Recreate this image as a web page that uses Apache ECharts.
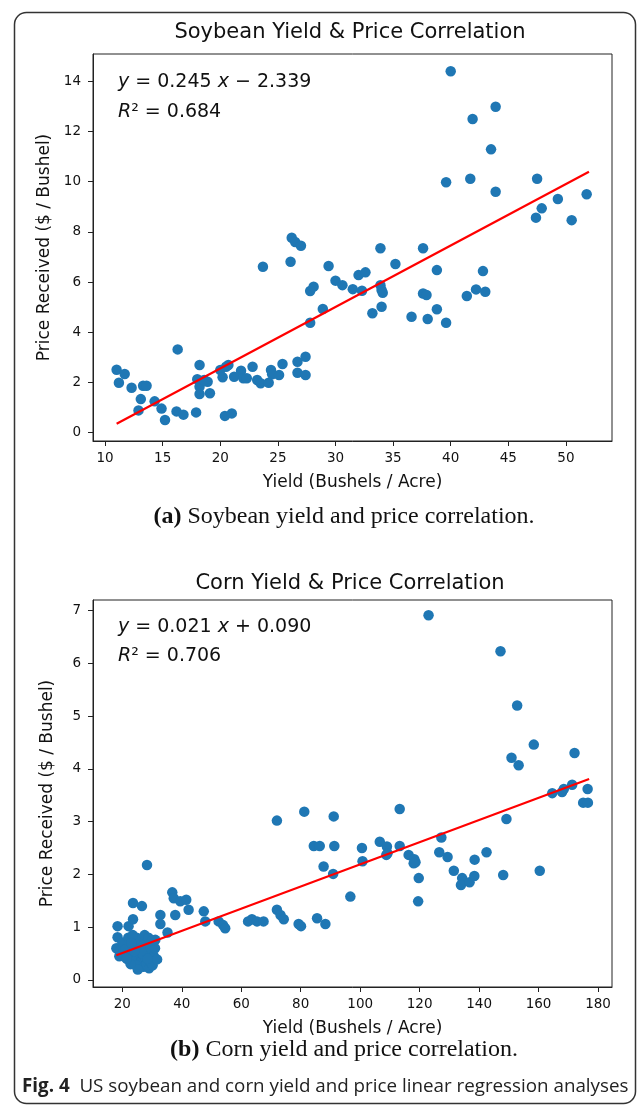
<!DOCTYPE html>
<html>
<head>
<meta charset="utf-8">
<script src="https://cdn.jsdelivr.net/npm/echarts@6/dist/echarts.min.js"></script>
<style>
html,body{margin:0;padding:0;background:#fff;}
#chart{width:637px;height:1107px;}
</style>
</head>
<body>
<div id="chart"></div>
<script>
// ---------- Soybean data ----------
const soyYield = [11.0,11.7,11.2,12.3,13.3,13.6,13.1,12.9,14.3,14.9,15.2,16.3,16.2,16.8,17.9,18.2,18.0,18.9,18.2,18.2,19.1,18.6,20.0,20.2,20.5,20.7,20.4,21.0,21.2,21.8,22.0,22.3,22.8,23.2,23.5,23.7,24.2,24.4,24.5,25.1,25.4,26.1,26.2,26.5,27.0,26.7,26.7,27.4,27.4,27.8,27.8,28.1,28.9,29.4,30.0,30.6,31.5,32.3,32.0,32.6,33.9,34.0,34.1,33.2,34.0,33.9,35.2,36.6,37.6,37.6,37.9,38.0,38.8,38.8,39.6,41.4,42.2,43.0,42.8,40.0,43.9,41.9,43.5,39.6,41.7,43.9,47.5,47.9,47.4,49.3,50.5,51.8];
const soyPrice = [2.51,2.34,1.99,1.79,1.87,1.87,1.34,0.89,1.25,0.96,0.51,3.32,0.85,0.72,0.81,2.70,2.13,2.03,1.83,1.54,1.57,2.10,2.50,2.21,2.63,2.70,0.67,0.77,2.23,2.47,2.17,2.17,2.63,2.10,1.97,6.61,1.99,2.50,2.33,2.30,2.74,6.81,7.77,7.60,7.45,2.83,2.39,3.03,2.30,4.38,5.65,5.82,4.93,6.64,6.06,5.88,5.72,5.66,6.28,6.39,5.88,5.69,5.58,4.76,5.02,7.35,6.72,4.62,7.35,5.55,5.49,4.53,6.48,4.92,4.38,5.45,5.71,5.62,6.44,14.40,12.99,12.50,11.29,9.98,10.12,9.60,10.12,8.94,8.57,9.31,8.47,9.50];
const soyFitX = [11.0, 52.0];
const soyFitY = [0.356, 10.401];
const soyXTicks = [10,15,20,25,30,35,40,45,50];
const soyYTicks = [0,2,4,6,8,10,12,14];

// ---------- Corn data ----------
const cornYield = [18.4,18.4,18.0,22.1,23.6,23.6,26.6,28.3,32.8,32.8,31.1,35.2,36.8,37.3,37.8,39.5,41.5,42.3,47.4,47.9,52.4,53.9,54.6,62.3,63.6,65.3,67.5,72.0,72.0,73.2,74.3,79.3,80.1,81.2,84.4,86.4,85.5,88.3,87.7,91.1,91.3,90.9,96.7,100.6,100.8,106.6,109.0,109.2,108.8,113.3,113.3,116.3,118.2,118.6,118.0,119.7,119.5,127.3,126.6,129.4,131.5,134.3,133.9,136.8,138.4,138.5,142.5,148.1,149.2,160.4,175.0,176.6,123.0,147.2,152.8,158.4,150.9,153.3,172.1,164.6,167.9,168.5,171.3,176.5,
  19.2,19.8,20.3,20.9,21.4,21.8,22.3,22.6,23.0,23.3,23.7,24.0,24.2,24.5,24.8,25.0,25.3,25.6,25.8,26.1,26.3,26.6,26.9,27.1,27.3,27.6,27.9,28.1,28.4,28.7,29.0,29.2,29.5,29.8,30.2,30.6,31.0,31.7,20.0,21.0,22.0,23.5,24.6,26.0,27.5,28.8,25.2,22.8,26.8,24.0,19.0,28.5,30.0,21.5,23.0];
const cornPrice = [1.02,0.81,0.60,1.02,1.15,1.46,1.40,2.18,1.23,1.06,0.76,0.90,1.66,1.55,1.23,1.49,1.52,1.33,1.30,1.11,1.11,1.04,0.98,1.11,1.15,1.11,1.11,3.02,1.33,1.23,1.15,1.06,1.02,3.19,2.54,2.54,1.17,1.06,2.15,3.10,2.54,2.01,1.58,2.50,2.25,2.62,2.53,2.40,2.37,2.54,3.24,2.37,2.29,2.23,2.21,1.93,1.49,2.70,2.42,2.33,2.07,1.93,1.80,1.85,1.97,2.28,2.42,1.99,3.05,2.07,3.36,3.36,6.91,6.23,5.20,4.46,4.21,4.07,4.30,3.54,3.56,3.62,3.70,3.62,
  0.55,0.48,0.62,0.44,0.70,0.52,0.38,0.66,0.58,0.45,0.74,0.33,0.62,0.50,0.80,0.41,0.68,0.30,0.56,0.77,0.46,0.36,0.63,0.25,0.52,0.71,0.40,0.30,0.58,0.47,0.22,0.66,0.35,0.52,0.28,0.45,0.60,0.39,0.70,0.58,0.80,0.85,0.28,0.60,0.85,0.80,0.20,0.30,0.50,0.55,0.45,0.40,0.75,0.40,0.70];
const cornFitX = [18.0, 177.0];
const cornFitY = [0.468, 3.807];
const cornXTicks = [20,40,60,80,100,120,140,160,180];
const cornYTicks = [0,1,2,3,4,5,6,7];

const zip = (a, b) => a.map((v, i) => [v, b[i]]);

const SANS = '"DejaVu Sans", sans-serif';
const TXT = '#111';
const DOT = '#1f77b4';

function xAxisCfg(gi, min, max, ticks) {
  return {
    type: 'value', gridIndex: gi, min: min, max: max,
    name: 'Yield (Bushels / Acre)', nameLocation: 'middle', nameGap: 33,
    nameTextStyle: {fontFamily: SANS, fontSize: 17, color: TXT},
    axisLine: {show: true, onZero: false, lineStyle: {color: '#222', width: 1}},
    axisTick: {show: true, length: 5, lineStyle: {color: '#222'}, customValues: ticks},
    axisLabel: {show: true, fontFamily: SANS, fontSize: 13.5, color: TXT, margin: 10, customValues: ticks},
    splitLine: {show: false}
  };
}
function yAxisCfg(gi, min, max, ticks) {
  return {
    type: 'value', gridIndex: gi, min: min, max: max,
    name: 'Price Received ($ / Bushel)', nameLocation: 'middle', nameGap: 37,
    nameTextStyle: {fontFamily: SANS, fontSize: 17, color: TXT},
    axisLine: {show: true, onZero: false, lineStyle: {color: '#222', width: 1}},
    axisTick: {show: true, length: 5, lineStyle: {color: '#222'}, customValues: ticks},
    axisLabel: {show: true, fontFamily: SANS, fontSize: 13.5, color: TXT, margin: 12, customValues: ticks},
    splitLine: {show: false}
  };
}

const richItalic = {i: {fontStyle: 'italic', fontFamily: 'DejaVu Sans', fontSize: 19, fill: '#111'}};
const chart = echarts.init(document.getElementById('chart'), null, {renderer: 'canvas'});
const option = {
  backgroundColor: '#fff',
  animation: false,
  grid: [
    {left: 93, top: 54, width: 519, height: 387, show: true, borderColor: '#222', borderWidth: 1, backgroundColor: 'transparent', containLabel: false, outerBoundsMode: 'none'},
    {left: 93, top: 600, width: 519, height: 387, show: true, borderColor: '#222', borderWidth: 1, backgroundColor: 'transparent', containLabel: false, outerBoundsMode: 'none'}
  ],
  xAxis: [xAxisCfg(0, 8.95, 54.0, soyXTicks), xAxisCfg(1, 10.14, 184.7, cornXTicks)],
  yAxis: [yAxisCfg(0, -0.33, 15.09, soyYTicks), yAxisCfg(1, -0.133, 7.2, cornYTicks)],
  series: [
    {type: 'scatter', xAxisIndex: 0, yAxisIndex: 0, data: zip(soyYield, soyPrice), symbolSize: 10.5, itemStyle: {color: DOT, opacity: 1}, z: 2},
    {type: 'line', xAxisIndex: 0, yAxisIndex: 0, data: zip(soyFitX, soyFitY), symbol: 'none', lineStyle: {color: '#ff0000', width: 2.2}, z: 3},
    {type: 'scatter', xAxisIndex: 1, yAxisIndex: 1, data: zip(cornYield, cornPrice), symbolSize: 10.5, itemStyle: {color: DOT, opacity: 1}, z: 2},
    {type: 'line', xAxisIndex: 1, yAxisIndex: 1, data: zip(cornFitX, cornFitY), symbol: 'none', lineStyle: {color: '#ff0000', width: 2.2}, z: 3}
  ],
  graphic: [
    {type: 'rect', shape: {x: 14.5, y: 12.5, width: 621, height: 1091, r: 12}, style: {fill: 'none', stroke: '#333', lineWidth: 1.5}, z: 0},
    {type: 'text', x: 350, y: 33, style: {text: 'Soybean Yield & Price Correlation', font: '21px "DejaVu Sans"', fill: '#111', align: 'center', verticalAlign: 'middle'}},
    {type: 'text', x: 350, y: 584, style: {text: 'Corn Yield & Price Correlation', font: '21px "DejaVu Sans"', fill: '#111', align: 'center', verticalAlign: 'middle'}},
    {type: 'text', x: 118, y: 82, style: {text: '{i|y} = 0.245 {i|x} − 2.339', font: '19px "DejaVu Sans"', fill: '#111', verticalAlign: 'middle', rich: richItalic}},
    {type: 'text', x: 118, y: 112, style: {text: '{i|R}² = 0.684', font: '19px "DejaVu Sans"', fill: '#111', verticalAlign: 'middle', rich: richItalic}},
    {type: 'text', x: 118, y: 627, style: {text: '{i|y} = 0.021 {i|x} + 0.090', font: '19px "DejaVu Sans"', fill: '#111', verticalAlign: 'middle', rich: richItalic}},
    {type: 'text', x: 118, y: 656, style: {text: '{i|R}² = 0.706', font: '19px "DejaVu Sans"', fill: '#111', verticalAlign: 'middle', rich: richItalic}},
    {type: 'text', x: 344, y: 517, style: {text: '{b|(a)} Soybean yield and price correlation.', font: '24px "Liberation Serif"', fill: '#111', align: 'center', verticalAlign: 'middle', rich: {b: {fontWeight: 'bold', fontFamily: 'Liberation Serif', fontSize: 24, fill: '#111'}}}},
    {type: 'text', x: 344, y: 1050, style: {text: '{b|(b)} Corn yield and price correlation.', font: '24px "Liberation Serif"', fill: '#111', align: 'center', verticalAlign: 'middle', rich: {b: {fontWeight: 'bold', fontFamily: 'Liberation Serif', fontSize: 24, fill: '#111'}}}},
    {type: 'text', x: 22, y: 1087, style: {text: '{b|Fig. 4}  US soybean and corn yield and price linear regression analyses', font: '18.8px "Open Sans"', fill: '#222', verticalAlign: 'middle', rich: {b: {fontWeight: 'bold', fontFamily: 'Open Sans', fontSize: 18.8, fill: '#222'}}}}
  ]
};
chart.setOption(option);
</script>
</body>
</html>
